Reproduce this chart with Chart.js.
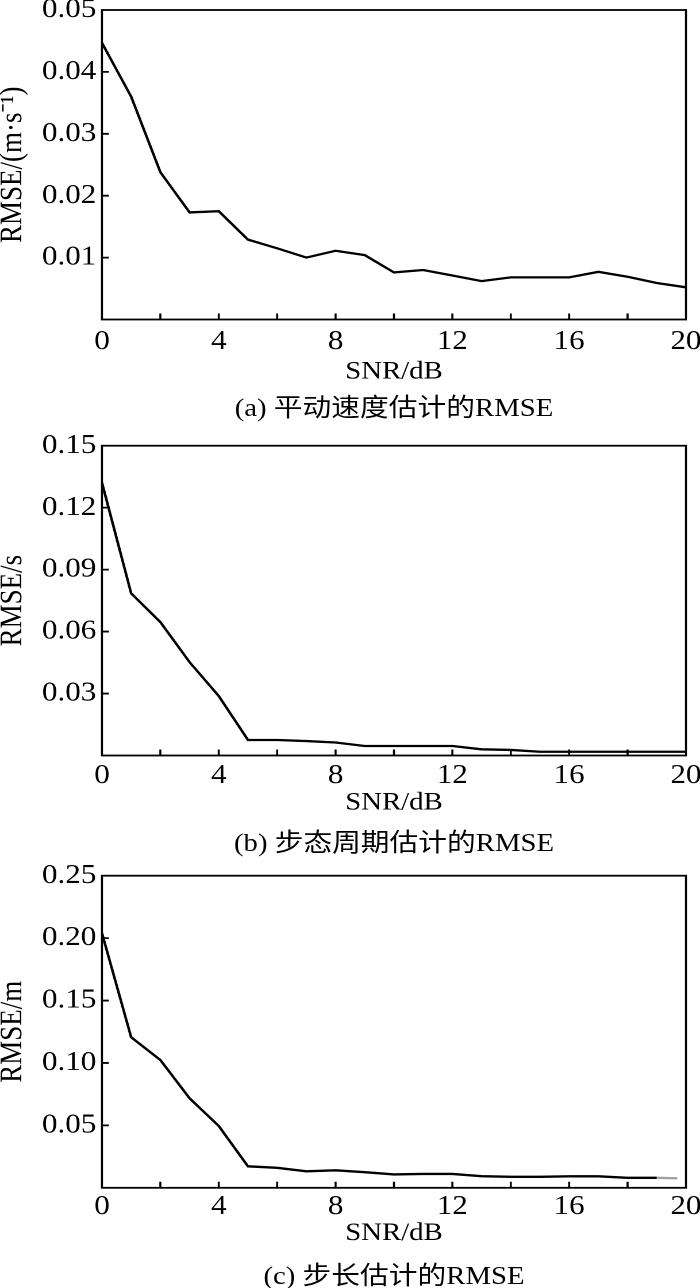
<!DOCTYPE html>
<html>
<head>
<meta charset="utf-8">
<title>RMSE vs SNR</title>
<script src="https://cdn.jsdelivr.net/npm/chart.js@4.4.1/dist/chart.umd.min.js"></script>
<style>
  html, body { margin: 0; padding: 0; background: #fff; }
  #page { position: relative; width: 700px; height: 1288px; overflow: hidden; }
  /* the reference figure is a bit stretched sideways, so each panel is drawn narrower and scaled */
  .panel { position: absolute; left: 0; width: 609px; transform: scaleX(1.1494); transform-origin: 0 0; }
  .caption {
    position: absolute; left: 342.8px; transform: translate(-50%, -50%);
    white-space: nowrap; color: #000; line-height: 1;
    font: 25px 'Liberation Serif', 'Noto Sans CJK SC', serif;
  }
</style>
</head>
<body>
<div id="page"></div>
<script>
// x axis (SNR in dB)
const snr = [0, 1, 2, 3, 4, 5, 6, 7, 8, 9, 10, 11, 12, 13, 14, 15, 16, 17, 18, 19, 20];
const snrStride = [0, 1, 2, 3, 4, 5, 6, 7, 8, 9, 10, 11, 12, 13, 14, 15, 16, 17, 18, 19, 19.7];
const snrTicks = [0, 4, 8, 12, 16, 20];

// (a) translational speed RMSE, m/s
const speedRmse = [0.0447, 0.0360, 0.0238, 0.0173, 0.0175, 0.0129, 0.0115, 0.0100, 0.0111, 0.0104,
                   0.0076, 0.0080, 0.0071, 0.0062, 0.0068, 0.0068, 0.0068, 0.0077, 0.0069, 0.0059, 0.0052];
// (b) gait period RMSE, s
const periodRmse = [0.1321, 0.0785, 0.0646, 0.0452, 0.0288, 0.0075, 0.0075, 0.0070, 0.0063, 0.0046,
                    0.0046, 0.0046, 0.0046, 0.0030, 0.0027, 0.0018, 0.0018, 0.0018, 0.0018, 0.0018, 0.0018];
// (c) stride length RMSE, m
const strideRmse = [0.2040, 0.1206, 0.1024, 0.0717, 0.0495, 0.0172, 0.0160, 0.0132, 0.0140, 0.0125,
                    0.0107, 0.0111, 0.0111, 0.0093, 0.0088, 0.0088, 0.0092, 0.0092, 0.0080, 0.0080, 0.0076];

const speedTicks = [0.01, 0.02, 0.03, 0.04, 0.05];
const periodTicks = [0.03, 0.06, 0.09, 0.12, 0.15];
const strideTicks = [0.05, 0.10, 0.15, 0.20, 0.25];

const SERIF = "'Liberation Serif', 'Times New Roman', serif";
const LW = 609;          // logical panel width before the sideways stretch
const PLOT_LEFT = 88.7;
const PLOT_RIGHT = 596.8;
const X_TITLE_LH = 25 * 1.2;

// box around the plot + short inward tick marks
const frame = {
  id: 'frame',
  afterDraw(chart) {
    const { ctx, chartArea: a, scales: { x, y } } = chart;
    ctx.save();
    ctx.strokeStyle = '#000';
    ctx.lineWidth = 1.8;
    ctx.beginPath();
    x.ticks.forEach(t => {
      if (t.value <= x.min + 1e-9 || t.value >= x.max - 1e-9) return;
      const px = x.getPixelForValue(t.value);
      ctx.moveTo(px, a.bottom);
      ctx.lineTo(px, a.bottom - 6);
    });
    y.ticks.forEach(t => {
      if (t.value <= y.min + 1e-9 || t.value >= y.max - 1e-9) return;
      const py = y.getPixelForValue(t.value);
      ctx.moveTo(a.left, py);
      ctx.lineTo(a.left + 6, py);
    });
    ctx.stroke();
    ctx.strokeRect(a.left, a.top, a.right - a.left, a.bottom - a.top);
    ctx.restore();
  }
};

const panels = [
  { offset: 0, height: 430, plotTop: 10, plotBottom: 319.5, xTickPad: 6, xTitleY: 372, captionY: 405,
    x: snr, y: speedRmse, ticks: speedTicks, yTitle: 'RMSE/(m\u00B7s\u207B\u00B9)',
    caption: '(a) 平动速度估计的RMSE' },
  { offset: 430, height: 430, plotTop: 15.7, plotBottom: 325.5, xTickPad: 4, xTitleY: 373, captionY: 410,
    x: snr, y: periodRmse, ticks: periodTicks, yTitle: 'RMSE/s',
    caption: '(b) 步态周期估计的RMSE' },
  { offset: 860, height: 428, plotTop: 15.7, plotBottom: 327.8, xTickPad: 3, xTitleY: 373.5, captionY: 413,
    x: snrStride, y: strideRmse, ticks: strideTicks, yTitle: 'RMSE/m',
    caption: '(c) 步长估计的RMSE', fadeLast: true }
];

const page = document.getElementById('page');

panels.forEach(p => {
  const wrap = document.createElement('div');
  wrap.className = 'panel';
  wrap.style.top = p.offset + 'px';
  wrap.style.height = p.height + 'px';

  const canvas = document.createElement('canvas');
  canvas.width = LW;
  canvas.height = p.height;
  canvas.style.width = LW + 'px';
  canvas.style.height = p.height + 'px';
  wrap.appendChild(canvas);

  const cap = document.createElement('div');
  cap.className = 'caption';
  cap.style.top = p.captionY + 'px';
  cap.textContent = p.caption;
  wrap.appendChild(cap);
  page.appendChild(wrap);

  const xBottom = p.xTitleY + X_TITLE_LH / 2;
  const lastIdx = p.x.length - 1;
  const step = p.ticks[1] - p.ticks[0];

  new Chart(canvas, {
    type: 'line',
    data: {
      datasets: [{
        data: p.x.map((v, i) => ({ x: v, y: p.y[i] })),
        borderColor: '#000',
        borderWidth: 2.3,
        pointRadius: 0,
        tension: 0,
        fill: false,
        segment: {
          borderColor: c => (p.fadeLast && c.p1DataIndex === lastIdx) ? '#a0a0a0' : '#000'
        }
      }]
    },
    options: {
      responsive: false,
      animation: false,
      devicePixelRatio: 2,
      layout: { padding: { left: 0, right: LW - PLOT_RIGHT, top: p.plotTop, bottom: p.height - xBottom } },
      plugins: { legend: { display: false }, tooltip: { enabled: false } },
      scales: {
        x: {
          type: 'linear', min: 0, max: 20,
          grid: { display: false, drawTicks: false },
          border: { display: false },
          ticks: {
            stepSize: 2, autoSkip: false, maxRotation: 0, padding: p.xTickPad,
            color: '#000', font: { family: SERIF, size: 27 },
            callback: v => snrTicks.includes(v) ? String(v) : ''
          },
          title: { display: true, text: 'SNR/dB', color: '#000', padding: 0,
                   font: { family: SERIF, size: 25, lineHeight: 1.2 } },
          afterFit: s => { s.height = xBottom - p.plotBottom; s.paddingLeft = 0; s.paddingRight = 0; }
        },
        y: {
          min: 0, max: p.ticks[p.ticks.length - 1],
          grid: { display: false, drawTicks: false },
          border: { display: false },
          ticks: {
            stepSize: step, padding: 5, color: '#000', font: { family: SERIF, size: 27 },
            callback: v => v < 1e-9 ? '' : v.toFixed(2)
          },
          title: { display: true, text: p.yTitle, color: '#000', padding: 0,
                   font: { family: SERIF, size: 27, lineHeight: 0.86 } },
          afterFit: s => { s.width = PLOT_LEFT; s.paddingTop = 0; s.paddingBottom = 0; }
        }
      }
    },
    plugins: [frame]
  });
});
</script>
</body>
</html>
